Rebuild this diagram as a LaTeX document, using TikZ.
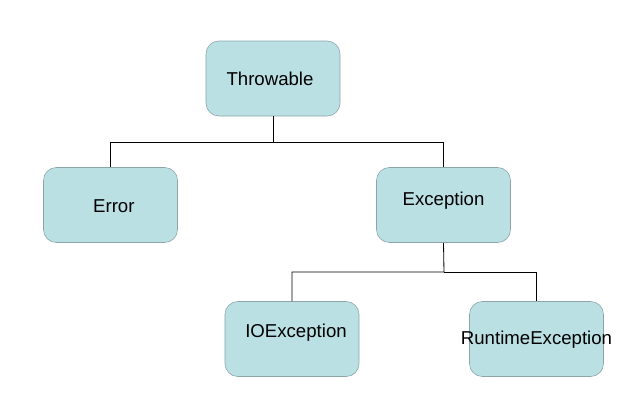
\documentclass[tikz,border=0pt]{standalone}
\usepackage{fontspec}
\setmainfont{Liberation Sans}
\definecolor{clsfill}{RGB}{186,224,227}
\definecolor{clsdraw}{RGB}{140,165,170}
\usetikzlibrary{positioning}

\begin{document}
\begin{tikzpicture}[x=0.03cm,y=-0.03cm,
    cls/.style={draw=clsdraw,fill=clsfill,rounded corners=11pt,line width=0.5pt,
      minimum width=4.02cm,minimum height=2.25cm,inner sep=0pt},
    clstext/.style={font=\fontsize{15.9}{18}\selectfont},
    link/.style={black,line width=0.7pt}]
  \useasboundingbox (0,0) rectangle (639,409);
  % Throwable
  \node[cls,label={[clstext,xshift=-0.09cm]center:Throwable}] (throwable) at (273,78.5) {};
  % Error and Exception
  \node[cls,label={[clstext,xshift=0.1cm,yshift=-0.03cm]center:Error}] (error) at (110.5,205) {};
  \node[cls,label={[clstext,yshift=0.12cm]center:Exception}] (exception) at (443.5,205) {};
  % IOException and RuntimeException
  \node[cls,label={[clstext,xshift=0.12cm,yshift=0.18cm]center:IOException}] (ioexc) at (292,339) {};
  \node[cls,label={[clstext,yshift=-0.03cm]center:RuntimeException}] (rtexc) at (536.5,339) {};
  % Connectors
  \coordinate (split1) at (273,142);
  \coordinate (split2) at (444,272);
  \draw[link] (throwable.south) -- (split1) -| (error.north);
  \draw[link] (split1) -| (exception.north);
  \draw[link] (exception.south) -- (split2) -| (ioexc.north);
  \draw[link] (split2) -| (rtexc.north);
\end{tikzpicture}
\end{document}
